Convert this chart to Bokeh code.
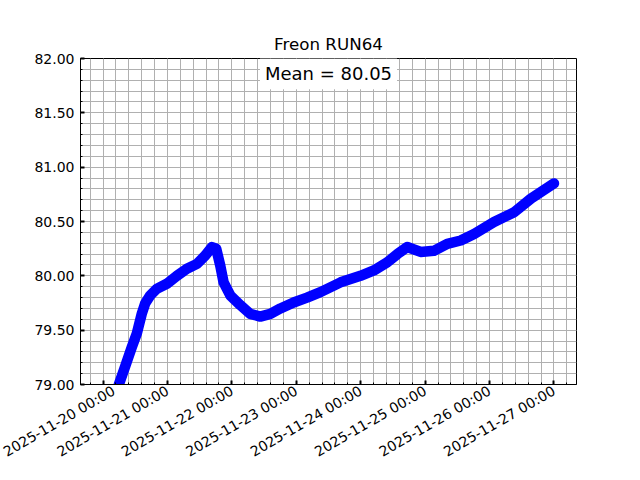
import math
import pandas as pd
from bokeh.plotting import figure
from bokeh.models import (ColumnDataSource, FixedTicker, DatetimeTickFormatter,
                          NumeralTickFormatter, Range1d, Label)
from bokeh.embed import file_html
from bokeh.resources import INLINE

# ---- data ----
times = [
    "2025-11-20 00:00", "2025-11-20 02:50", "2025-11-20 05:45", "2025-11-20 08:10",
    "2025-11-20 10:40", "2025-11-20 12:35", "2025-11-20 14:25", "2025-11-20 15:40",
    "2025-11-20 17:35", "2025-11-20 20:00", "2025-11-20 23:45", "2025-11-21 03:30",
    "2025-11-21 07:15", "2025-11-21 11:00", "2025-11-21 14:05", "2025-11-21 16:35",
    "2025-11-21 18:10", "2025-11-21 19:40", "2025-11-21 20:55", "2025-11-21 23:25",
    "2025-11-22 03:10", "2025-11-22 06:50", "2025-11-22 10:35", "2025-11-22 14:20",
    "2025-11-22 18:05", "2025-11-22 23:00", "2025-11-23 04:00", "2025-11-23 09:00",
    "2025-11-23 16:30", "2025-11-23 23:55", "2025-11-24 04:55", "2025-11-24 09:55",
    "2025-11-24 13:40", "2025-11-24 17:20", "2025-11-24 22:20", "2025-11-25 03:15",
    "2025-11-25 08:15", "2025-11-25 13:15", "2025-11-25 18:15", "2025-11-26 01:40",
    "2025-11-26 09:10", "2025-11-26 15:25", "2025-11-27 00:00",
]
freon = [
    78.60, 78.80, 78.99, 79.16,
    79.34, 79.47, 79.65, 79.745,
    79.82, 79.88, 79.927, 80.00,
    80.065, 80.11, 80.187, 80.265,
    80.25, 80.095, 79.94, 79.82,
    79.73, 79.65, 79.625, 79.65,
    79.70, 79.755, 79.80, 79.85,
    79.94, 80.00, 80.05, 80.125,
    80.20, 80.265, 80.22, 80.23,
    80.295, 80.325, 80.385, 80.495,
    80.585, 80.71, 80.85,
]
x_tick_dates = ["2025-11-20", "2025-11-21", "2025-11-22", "2025-11-23",
                "2025-11-24", "2025-11-25", "2025-11-26", "2025-11-27"]
y_ticks = [79.0, 79.5, 80.0, 80.5, 81.0, 81.5, 82.0]
y_minor_ticks = [79.0, 79.1, 79.2, 79.3, 79.4, 79.5, 79.6, 79.7, 79.8, 79.9,
                 80.0, 80.1, 80.2, 80.3, 80.4, 80.5, 80.6, 80.7, 80.8, 80.9,
                 81.0, 81.1, 81.2, 81.3, 81.4, 81.5, 81.6, 81.7, 81.8, 81.9, 82.0]
y_limits = [79.0, 82.0]
title_text = "Freon RUN64"
mean_text = "Mean = 80.05"

FONT = "DejaVu Sans"

t = pd.to_datetime(times)
src = ColumnDataSource(dict(t=t, v=freon))

p = figure(frame_width=496, frame_height=326,
           min_border_left=80, min_border_right=64,
           min_border_top=58, min_border_bottom=96,
           x_axis_type="datetime", output_backend="svg",
           toolbar_location=None, title=title_text)
p.y_range = Range1d(y_limits[0], y_limits[1])

p.line("t", "v", source=src, line_color="#0000ff", line_width=10.5,
       line_join="round", line_cap="round")

# ticks
def ms(d):
    return pd.Timestamp(d).value / 1e6

x_major = [ms(d) for d in x_tick_dates]
x_minor = [ms(d) for d in pd.date_range("2025-11-19 00:00", "2025-11-28 00:00", freq="288min")]
xticker = FixedTicker(ticks=x_major, minor_ticks=x_minor)
yticker = FixedTicker(ticks=y_ticks, minor_ticks=y_minor_ticks)
p.xaxis.ticker = xticker
p.yaxis.ticker = yticker
p.xgrid.ticker = xticker
p.ygrid.ticker = yticker

fmt = "%Y-%m-%d %H:%M"
p.xaxis.formatter = DatetimeTickFormatter(
    milliseconds=fmt, seconds=fmt, minsec=fmt, minutes=fmt, hourmin=fmt,
    hours=fmt, days=fmt, months=fmt, years=fmt)
p.xaxis.major_label_orientation = math.pi / 6
p.yaxis.formatter = NumeralTickFormatter(format="0.00")

for ax in (p.xaxis, p.yaxis):
    ax.axis_line_color = "black"
    ax.axis_line_width = 1
    ax.major_tick_in = 4
    ax.major_tick_out = 0
    ax.minor_tick_in = 2
    ax.minor_tick_out = 0
    ax.major_tick_line_color = "black"
    ax.major_tick_line_width = 2
    ax.minor_tick_line_color = "black"
    ax.minor_tick_line_width = 1
    ax.major_label_text_font = FONT
    ax.major_label_text_font_size = "14px"
    ax.major_label_text_color = "black"
p.yaxis.major_label_standoff = 6
p.xaxis.major_label_standoff = 5

for g in (p.xgrid, p.ygrid):
    g.grid_line_color = "#b0b0b0"
    g.grid_line_width = 1
    g.minor_grid_line_color = "#b0b0b0"
    g.minor_grid_line_width = 1

p.outline_line_color = "black"
p.outline_line_width = 1
p.background_fill_color = "white"
p.border_fill_color = "white"

p.title.align = "center"
p.title.text_font = FONT
p.title.text_font_size = "16.7px"
p.title.text_font_style = "normal"
p.title.text_color = "black"

t_ms = [ms(x) for x in times]
mid = (min(t_ms) + max(t_ms)) / 2
p.add_layout(Label(x=mid, y=81.86, text=mean_text, text_align="center",
                   text_baseline="middle", text_font=FONT, text_font_size="18px",
                   text_color="black", background_fill_color="white",
                   background_fill_alpha=1.0, padding=5))

open("out.html", "w").write(file_html(p, INLINE))
